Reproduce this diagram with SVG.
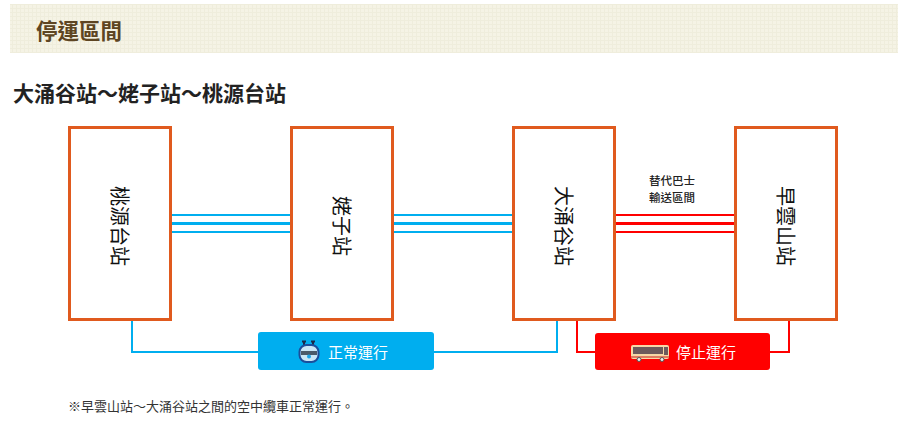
<svg xmlns="http://www.w3.org/2000/svg" width="913" height="439" viewBox="0 0 913 439">
<defs>
<pattern id="grid" width="4" height="4" patternUnits="userSpaceOnUse">
<rect width="4" height="4" fill="#F5F3E5"/>
<path d="M0 0.5H4M0.5 0V4" stroke="#EFEDDC" stroke-width="1"/>
</pattern>
</defs>
<style>
.cjk{font-family:"Noto Sans CJK TC","Noto Sans CJK JP",sans-serif}
.box{fill:#fff;stroke:#E05A1E;stroke-width:3}
.st{font-size:20px;fill:#111;text-anchor:middle;dominant-baseline:central}
.blue{stroke:#00AEEF;fill:none}
.red{stroke:#FF0000;fill:none}
.btn{font-size:15px;fill:#fff}
.lbl{font-size:11.5px;font-weight:500;fill:#222;text-anchor:middle}
</style>
<rect x="10" y="4" width="888" height="49" fill="url(#grid)"/>
<text x="36" y="38.5" class="cjk" font-size="21.5" font-weight="bold" fill="#5E4522">停運區間</text>
<text x="13" y="101" class="cjk" font-size="21" font-weight="bold" fill="#222">大涌谷站～姥子站～桃源台站</text>

<g id="connectors">
<path class="blue" stroke-width="2" d="M171 215H292M171 232H292M393 215H514M393 232H514"/>
<path class="blue" stroke-width="3" d="M171 223.5H292M393 223.5H514"/>
<path class="red" stroke-width="2" d="M616 215H735M616 232H735"/>
<path class="red" stroke-width="3" d="M616 223.5H735"/>
<path class="blue" stroke-width="2" d="M132 320V352H259M434 352H557V320"/>
<path class="red" stroke-width="2" d="M577 320V352H596M770 352H789V320"/>
<text x="672" y="184.5" class="cjk lbl">替代巴士</text>
<text x="672" y="201.5" class="cjk lbl">輸送區間</text>
</g>

<g id="n-toudaidai">
<rect class="box" x="69.5" y="127.5" width="101" height="192"/>
<text class="cjk st" transform="translate(120 226) rotate(90)">桃源台站</text>
</g>
<g id="n-ubako">
<rect class="box" x="291.5" y="127.5" width="101" height="192"/>
<text class="cjk st" transform="translate(342 226) rotate(90)">姥子站</text>
</g>
<g id="n-owakudani">
<rect class="box" x="513.5" y="127.5" width="101" height="192"/>
<text class="cjk st" transform="translate(564 226) rotate(90)">大涌谷站</text>
</g>
<g id="n-sounzan">
<rect class="box" x="735.5" y="127.5" width="101" height="192"/>
<text class="cjk st" transform="translate(786 226) rotate(90)">早雲山站</text>
</g>

<g id="btn-normal">
<rect x="258" y="332" width="176" height="38" rx="3" fill="#00AEEF"/>
<g>
<path d="M302 341.5H306M304 341.5V346M311 341.5H315M313 341.5V346" stroke="#1A2A4A" stroke-width="2"/>
<rect x="299.5" y="345" width="19" height="17" rx="7" fill="#C9E6F6" stroke="#1B4E9B" stroke-width="2"/>
<rect x="301" y="351" width="16" height="4" fill="#4A5A6A"/>
<circle cx="309" cy="356.5" r="2" fill="#1BA3E8"/>
</g>
<text x="328" y="357.5" class="cjk btn">正常運行</text>
</g>
<g id="btn-stop">
<rect x="595" y="333" width="175" height="37" rx="3" fill="#FF0000"/>
<g>
<rect x="631" y="345" width="38" height="14" rx="2" fill="#F7D7A6"/>
<rect x="633" y="347" width="30" height="7" fill="#6E5A5C"/>
<rect x="664" y="347" width="4" height="8" fill="#6E5A5C"/>
<rect x="631" y="356" width="38" height="2" fill="#E07A60"/>
<circle cx="639" cy="359.5" r="2" fill="#eee" stroke="#555" stroke-width="1"/>
<circle cx="662" cy="359.5" r="2" fill="#eee" stroke="#555" stroke-width="1"/>
</g>
<text x="676" y="358" class="cjk btn">停止運行</text>
</g>

<text x="68" y="411" class="cjk" font-size="13" fill="#333">※早雲山站～大涌谷站之間的空中纜車正常運行。</text>
</svg>
